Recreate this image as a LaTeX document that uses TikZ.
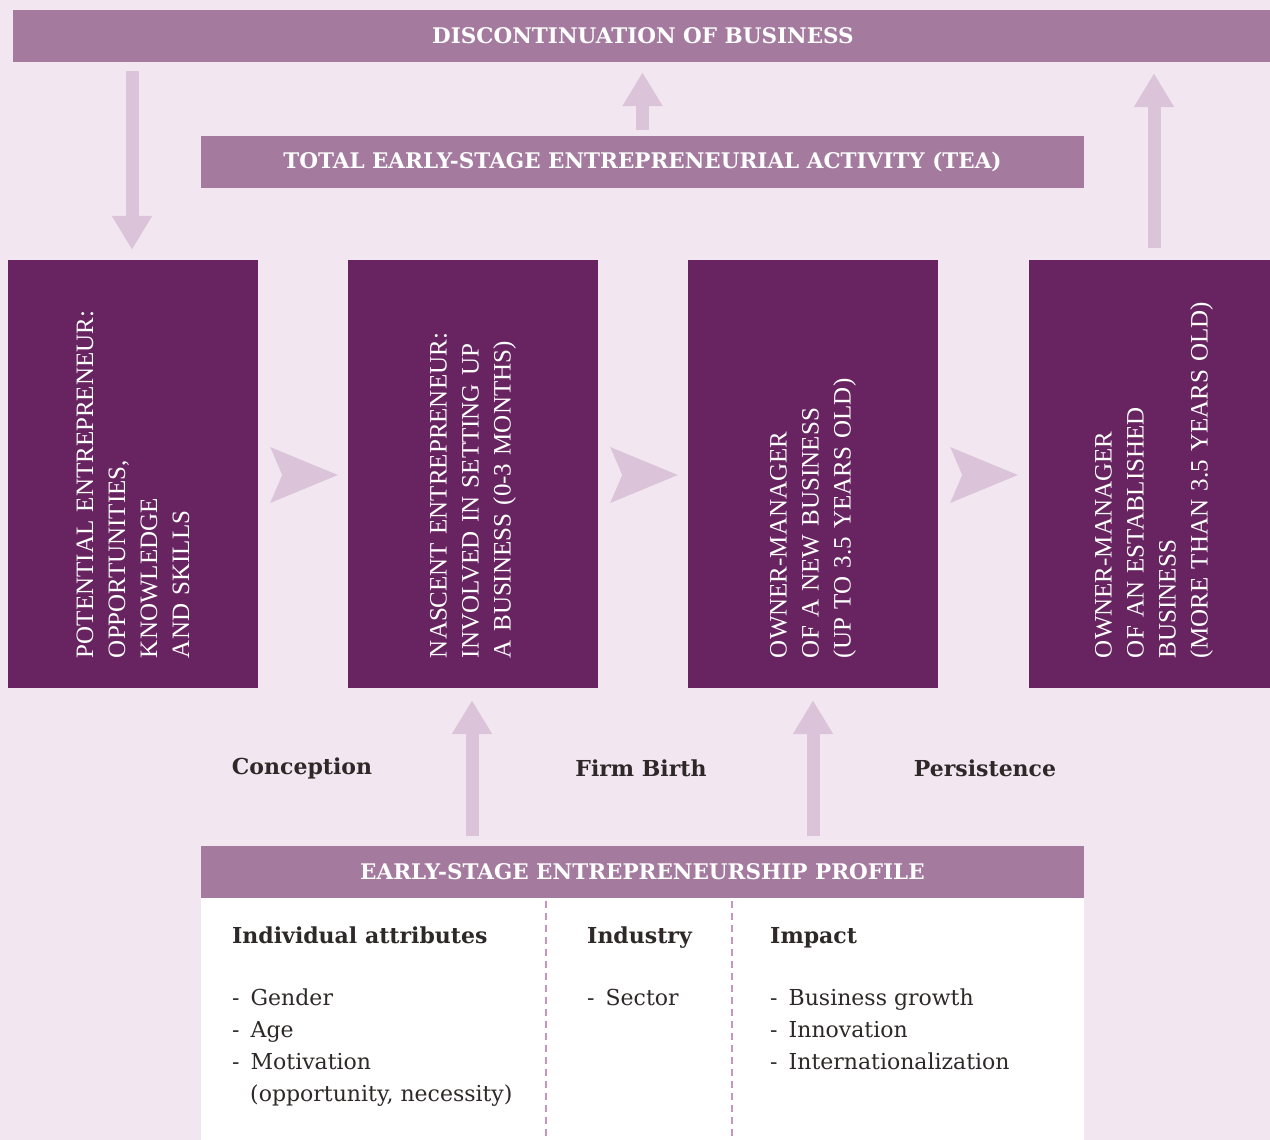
\documentclass[tikz,border=0pt]{standalone}
\usepackage{fontspec}
\setmainfont{DejaVu Serif}
\newfontfamily\stagefont{Liberation Serif}
\usetikzlibrary{arrows.meta, positioning, calc}

\definecolor{bgpink}{HTML}{F2E7F0}
\definecolor{barmauve}{HTML}{A47B9F}
\definecolor{stageplum}{HTML}{672461}
\definecolor{arrowpink}{HTML}{DBC4D9}
\definecolor{dashpink}{HTML}{C596C0}
\definecolor{textdark}{HTML}{2E2828}

\begin{document}
\begin{tikzpicture}[
  x=1pt, y=-1pt,
  bar/.style = {fill=barmauve, text=white, minimum height=52pt, inner sep=0pt,
    font=\fontsize{21.5}{26}\selectfont\bfseries},
  stage/.style = {fill=stageplum, text=white, rotate=90, minimum width=428pt,
    minimum height=250pt, text width=368pt, align=left, inner sep=0pt,
    font=\stagefont\fontsize{25}{32}\selectfont},
  bigarrow/.style = {draw=arrowpink, line width=13pt, -{Triangle[length=34pt, width=38pt]}},
  chevron/.style = {fill=arrowpink},
  phase/.style = {text=textdark, font=\fontsize{22}{26}\selectfont\bfseries},
  column/.style = {text=textdark, anchor=north west, align=left, inner sep=0pt,
    font=\fontsize{22}{32}\selectfont},
  divider/.style = {draw=dashpink, line width=1.5pt, dash pattern=on 7pt off 5pt}
]

  \useasboundingbox (0,0) rectangle (1270,1140);
  \clip (0,0) rectangle (1270,1140);
  \fill[bgpink] (0,0) rectangle (1270,1140);

  % Bars
  \node[bar, minimum width=1260pt] (discont) at (643,36) {DISCONTINUATION OF BUSINESS};
  \node[bar, minimum width=883pt] (tea) at (642.5,162) {TOTAL EARLY-STAGE ENTREPRENEURIAL ACTIVITY (TEA)};

  % Stages
  \node[stage] (potential) at (133,474) {POTENTIAL ENTREPRENEUR:\\ OPPORTUNITIES,\\ KNOWLEDGE\\ AND SKILLS};
  \node[stage] (nascent) at (473,474) {NASCENT ENTREPRENEUR:\\ INVOLVED IN SETTING UP\\ A BUSINESS (0-3 MONTHS)};
  \node[stage] (newowner) at (813,474) {OWNER-MANAGER\\ OF A NEW BUSINESS\\ (UP TO 3.5 YEARS OLD)};
  \node[stage] (established) at (1154,474) {OWNER-MANAGER\\ OF AN ESTABLISHED\\ BUSINESS\\ (MORE THAN 3.5 YEARS OLD)};

  % Stage to stage
  \fill[chevron] ($(potential.south)+(12,-27)$) -- ($(nascent.north)+(-10,1)$)
    -- ($(potential.south)+(12,29)$) -- ($(potential.south)+(24,1)$) -- cycle;
  \fill[chevron] ($(nascent.south)+(12,-27)$) -- ($(newowner.north)+(-10,1)$)
    -- ($(nascent.south)+(12,29)$) -- ($(nascent.south)+(24,1)$) -- cycle;
  \fill[chevron] ($(newowner.south)+(12,-27)$) -- ($(established.north)+(-11,1)$)
    -- ($(newowner.south)+(12,29)$) -- ($(newowner.south)+(24,1)$) -- cycle;

  % Phases
  \node[phase] (conception) at (302,768) {Conception};
  \node[phase] (firmbirth) at (641,768) {Firm Birth};
  \node[phase] (persistence) at (985,768) {Persistence};

  % Vertical flows
  \draw[bigarrow] ($(discont.south -| potential)+(-1,9)$) -- ($(potential.east)+(-1,-10)$);
  \draw[bigarrow] ($(tea.north)+(0,-6)$) -- ($(tea.north |- discont.south)+(0,10)$);
  \draw[bigarrow] ($(established.east)+(0,-12)$) -- ($(established |- discont.south)+(0,11)$);

  % Profile
  \node[bar, minimum width=883pt] (profile) at (642.5,872) {EARLY-STAGE ENTREPRENEURSHIP PROFILE};
  \node[fill=white, anchor=north, minimum width=883pt, minimum height=250pt, inner sep=0pt] (profilebody) at (profile.south) {};
  \draw[divider] ($(profilebody.north west)+(345,3)$) -- ($(profilebody.south west)+(345,0)$);
  \draw[divider] ($(profilebody.north west)+(531,3)$) -- ($(profilebody.south west)+(531,0)$);

  \draw[bigarrow] ($(profile.north -| nascent)+(-1,-10)$) -- ($(nascent.west)+(-1,12)$);
  \draw[bigarrow] ($(profile.north -| newowner)+(0,-10)$) -- ($(newowner.west)+(0,12)$);

  \node[column] (attributes) at (232,927) {\textbf{Individual attributes}\\[30pt]
    -\hspace{11pt}Gender\\ -\hspace{11pt}Age\\ -\hspace{11pt}Motivation\\ \hspace{18pt}(opportunity, necessity)};
  \node[column] (industry) at (587,927) {\textbf{Industry}\\[30pt] -\hspace{11pt}Sector};
  \node[column] (impact) at (770,927) {\textbf{Impact}\\[30pt]
    -\hspace{11pt}Business growth\\ -\hspace{11pt}Innovation\\ -\hspace{11pt}Internationalization};

\end{tikzpicture}
\end{document}
